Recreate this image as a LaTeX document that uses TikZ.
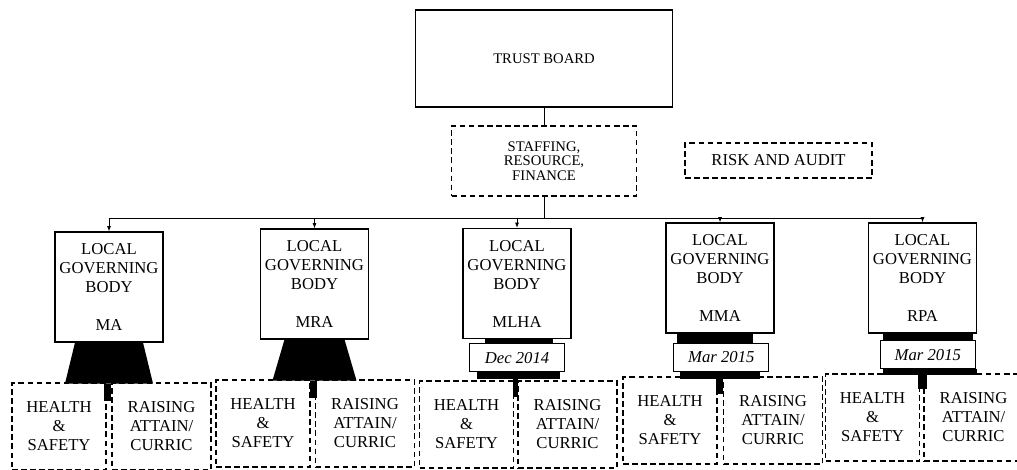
\documentclass[tikz,border=0pt]{standalone}
\usepackage{fontspec}
\setmainfont{Liberation Serif}
\usetikzlibrary{arrows.meta,positioning}

\begin{document}
\begin{tikzpicture}[x=0.75pt,y=-0.75pt,
    every node/.style={font=\fontsize{12.5}{14.25}\selectfont},
    box/.style={draw,line width=0.8pt,align=center,inner sep=1pt},
    dbox/.style={box,line width=1.15pt,dash pattern=on 4.2pt off 2.6pt},
    lgb/.style={box,minimum width=81pt,minimum height=82.5pt},
    datebox/.style={box,minimum width=71.25pt,minimum height=21pt,
        font=\fontsize{12.5}{14}\selectfont\itshape},
    hs/.style={dbox,minimum width=70.5pt,minimum height=65.25pt},
    ra/.style={dbox,minimum width=74.25pt,minimum height=65.25pt},
    link/.style={line width=0.7pt,-{Latex[length=4pt,width=3pt]}}]
    \useasboundingbox (0,0) rectangle (1017,470);

    % top of the tree
    \node[box,minimum width=192.75pt,minimum height=72.75pt,
        font=\fontsize{11}{13}\selectfont] (tb) at (544,58.5) {TRUST BOARD};
    \node[dbox,minimum width=138.75pt,minimum height=52.5pt,
        font=\fontsize{11}{11}\selectfont] (srf) at (544,161) {STAFFING,\\RESOURCE,\\FINANCE};
    \node[dbox,minimum width=140.25pt,minimum height=26.25pt] (risk) at (778.5,160.5) {RISK AND AUDIT};

    % local governing bodies
    \node[lgb] (ma)   at (109,287)   {LOCAL\\GOVERNING\\BODY\\[14.25pt]MA};
    \node[lgb] (mra)  at (314.5,284) {LOCAL\\GOVERNING\\BODY\\[14.25pt]MRA};
    \node[lgb] (mlha) at (517,283.5) {LOCAL\\GOVERNING\\BODY\\[14.25pt]MLHA};
    \node[lgb] (mma)  at (720,278)   {LOCAL\\GOVERNING\\BODY\\[14.25pt]MMA};
    \node[lgb] (rpa)  at (922.5,278) {LOCAL\\GOVERNING\\BODY\\[14.25pt]RPA};

    \node[datebox,below=3pt of mlha] (mlhad) {Dec 2014};
    \node[datebox,below=6.75pt of mma,xshift=1pt] (mmad) {Mar 2015};
    \node[datebox,below=5pt of rpa,xshift=4pt] (rpad) {Mar 2015};

    % committees
    \node[hs] (mahs)   at (59,426.5)    {HEALTH\\\&\\SAFETY};
    \node[ra] (mara)   at (161.5,426.5) {RAISING\\ATTAIN/\\CURRIC};
    \node[hs] (mrahs)  at (263,423.5)   {HEALTH\\\&\\SAFETY};
    \node[ra] (mrara)  at (365,423.5)   {RAISING\\ATTAIN/\\CURRIC};
    \node[hs] (mlhahs) at (466.5,424.5) {HEALTH\\\&\\SAFETY};
    \node[ra] (mlhara) at (567.5,424.5) {RAISING\\ATTAIN/\\CURRIC};
    \node[hs] (mmahs)  at (670,420.5)   {HEALTH\\\&\\SAFETY};
    \node[ra] (mmara)  at (773,420.5)   {RAISING\\ATTAIN/\\CURRIC};
    \node[hs] (rpahs)  at (872.5,417.5) {HEALTH\\\&\\SAFETY};
    \node[ra] (rpara)  at (973.5,417.5) {RAISING\\ATTAIN/\\CURRIC};

    % connectors
    \coordinate (bus) at (544,218);
    \draw[line width=0.7pt] (tb) -- (srf);
    \draw[line width=0.7pt] (srf) -- (bus);
    \foreach \n in {ma,mra,mlha,mma,rpa}
        \draw[link] (bus) -| (\n);

    \fill (ma.south) ++(-34,0) -- ++(68,0) -- ++(10,41) -- ++(-88,0) -- cycle;
    \fill (ma.south) ++(-5,41) rectangle ++(7,17);
    \fill (mra.south) ++(-30,0) -- ++(60,0) -- ++(12,41) -- ++(-84,0) -- cycle;
    \fill (mra.south) ++(-4.5,41) rectangle ++(7,17);

    \fill (mlha.south) ++(-32,0) rectangle ++(68,4);
    \fill (mlhad.south) ++(-40,0) rectangle ++(83,7);
    \fill (mlhad.south) ++(-4,0) rectangle ++(5,25);
    \fill (mma.south) ++(-43,0) rectangle ++(76,9);
    \fill (mmad.south) ++(-41,0) rectangle ++(80,7);
    \fill (mmad.south) ++(-5,0) rectangle ++(7,22);
    \fill (rpa.south) ++(-40,0) rectangle ++(90,7);
    \fill (rpad.south) ++(-45,0) rectangle ++(94,6);
    \fill (rpad.south) ++(-10,0) rectangle ++(9,20);
\end{tikzpicture}
\end{document}
